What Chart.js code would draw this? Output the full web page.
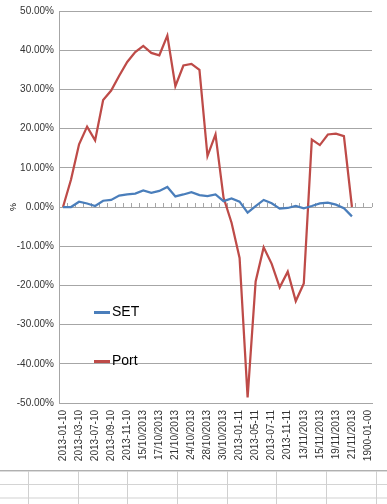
<!DOCTYPE html>
<html><head><meta charset="utf-8">
<script src="https://cdn.jsdelivr.net/npm/chart.js@4/dist/chart.umd.min.js"></script>
<style>
html,body{margin:0;padding:0;background:#fff;overflow:hidden;}
#wrap{position:relative;width:387px;height:470px;}
#legend{position:absolute;left:94px;top:0;font-family:'Liberation Sans Narrow','Liberation Sans',Arial,sans-serif;font-size:14px;color:#000;}
.item{position:absolute;left:0;white-space:nowrap;height:16px;line-height:16px;}
.sw{display:inline-block;width:16px;height:3px;vertical-align:middle;margin-right:2px;}
#sheet{position:relative;width:387px;height:34px;overflow:hidden;}
#sheet div{position:absolute;}
</style></head>
<body>
<div id="wrap"><canvas id="c" width="387" height="470"></canvas><div id="legend"></div></div>
<div id="sheet"></div>
<script>
const categories = [
  "2013-01-10","2013-02-10","2013-03-10","2013-04-10","2013-07-10","2013-08-10","2013-09-10","2013-10-10",
  "2013-11-10","14/10/2013","15/10/2013","16/10/2013","17/10/2013","18/10/2013","21/10/2013","22/10/2013",
  "24/10/2013","25/10/2013","28/10/2013","29/10/2013","30/10/2013","31/10/2013","2013-01-11","2013-04-11",
  "2013-05-11","2013-06-11","2013-07-11","2013-08-11","2013-11-11","2013-12-11","13/11/2013","14/11/2013",
  "15/11/2013","18/11/2013","19/11/2013","20/11/2013","21/11/2013","22/11/2013","1900-01-00"
];
const setValues = [
  0, 0, 1.35, 0.9, 0.25, 1.6, 1.8, 2.9, 3.2, 3.4, 4.2, 3.6, 4.1, 5.1, 2.7, 3.2, 3.8, 3.05, 2.8,
  3.2, 1.5, 2.2, 1.35, -1.45, 0.25, 1.8, 0.95, -0.4, -0.25, 0.25, -0.35, 0.25, 0.9, 1.1, 0.6, -0.3, -2.4
];
const portValues = [
  0, 7, 16, 20.5, 17, 27.3, 29.7, 33.5, 37, 39.5, 41.1, 39.3, 38.7, 43.7, 30.8, 36.1, 36.5, 35, 13,
  18.5, 2.4, -4, -13, -48.6, -19, -10.3, -14.5, -20.5, -16.5, -24, -19.5, 17.2, 15.8, 18.5, 18.7, 18.1, 0
];
const seriesNames = ["SET", "Port"];
const seriesColors = ["#4A7EBB", "#BE4B48"];
const yMin = -50, yMax = 50, yStep = 10;

const tickFont = {family: "'Liberation Sans Narrow','Liberation Sans',Arial,sans-serif", size: 10};
const gridColor = '#a6a6a6';

const chart = new Chart(document.getElementById('c'), {
  type: 'line',
  data: {
    labels: categories,
    datasets: [
      {label: seriesNames[0], data: setValues, borderColor: seriesColors[0], backgroundColor: seriesColors[0],
       borderWidth: 2.25, pointRadius: 0, tension: 0, xAxisID: 'x', yAxisID: 'y'},
      {label: seriesNames[1], data: portValues, borderColor: seriesColors[1], backgroundColor: seriesColors[1],
       borderWidth: 2.25, pointRadius: 0, tension: 0, xAxisID: 'x', yAxisID: 'y'}
    ]
  },
  options: {
    responsive: false,
    animation: false,
    devicePixelRatio: 1,
    layout: {padding: {top: 10, left: 0, right: 0, bottom: 0}},
    plugins: {legend: {display: false}, tooltip: {enabled: false}},
    scales: {
      x: {
        type: 'category', position: 'bottom', offset: true,
        grid: {display: false, drawTicks: false},
        border: {display: true, color: gridColor, width: 1},
        ticks: {autoSkip: false, maxRotation: 90, minRotation: 90, padding: 7, color: '#333', font: tickFont,
          callback: function(v, i) { return i % 2 === 0 ? this.getLabelForValue(v) : ''; }},
        afterFit: s => { s.height = 67; }
      },
      x2: {
        type: 'category', position: {y: 0}, offset: true,
        grid: {offset: true, drawOnChartArea: false, drawTicks: true, tickLength: -4, color: gridColor},
        border: {display: false},
        ticks: {display: false}
      },
      y: {
        min: yMin, max: yMax,
        grid: {color: gridColor, drawTicks: false, lineWidth: 1},
        border: {display: true, color: gridColor, width: 1},
        ticks: {stepSize: yStep, padding: 5, color: '#333', font: tickFont,
          callback: v => v.toFixed(2) + '%'},
        title: {display: true, text: '%', color: '#000', font: {family: tickFont.family, size: 9}, padding: {top: 8, bottom: 0}},
        afterFit: s => { s.width = 59; }
      }
    }
  }
});

// HTML legend built from the chart's datasets
const legend = document.getElementById('legend');
const legendTops = [303, 352];
chart.data.datasets.forEach((ds, i) => {
  const it = document.createElement('div');
  it.className = 'item';
  it.style.top = legendTops[i] + 'px';
  const sw = document.createElement('span');
  sw.className = 'sw';
  sw.style.background = ds.borderColor;
  it.appendChild(sw);
  it.appendChild(document.createTextNode(ds.label));
  legend.appendChild(it);
});

// spreadsheet cell grid under the chart
const sheet = document.getElementById('sheet');
function box(l, t, w, h, c) { const d = document.createElement('div'); d.style.cssText = `left:${l}px;top:${t}px;width:${w}px;height:${h}px;background:${c}`; sheet.appendChild(d); }
box(0, 0, 387, 1, '#b0b0b0');
box(0, 1, 387, 1, '#dcdcdc');
box(0, 14, 387, 1, '#d4d4d4');
box(0, 27, 387, 2, '#e8e8e8');
[28, 78, 127, 177, 227, 276, 326, 376].forEach(x => box(x, 1, 1, 33, '#d0d0d0'));
</script>
</body></html>
